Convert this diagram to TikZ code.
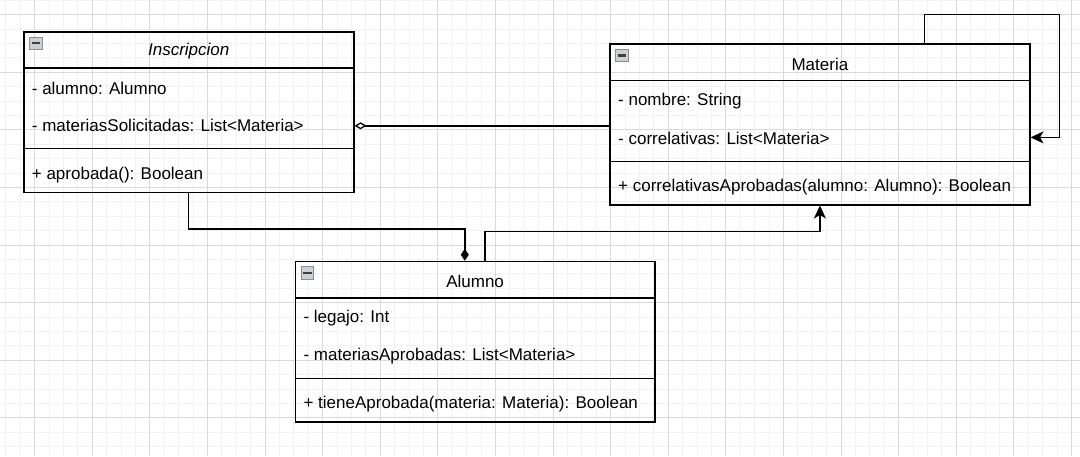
\documentclass[tikz,border=0pt]{standalone}
\usepackage{fontspec}
\setmainfont{Liberation Sans}
\usetikzlibrary{arrows.meta,calc}
\definecolor{gridminor}{HTML}{F2F2F2}
\definecolor{gridmajor}{HTML}{DADADA}
\definecolor{iconfill}{HTML}{CDCFD6}
\definecolor{iconline}{HTML}{8A8D96}
\begin{document}
\begin{tikzpicture}[x=1pt,y=-1pt,
  cbox/.style={draw=black,line width=1.5pt,inner sep=0pt,anchor=north west},
  cline/.style={draw=black,line width=1.5pt},
  ctitle/.style={inner sep=0pt,font=\fontsize{17}{20}\selectfont},
  crow/.style={inner xsep=8.7pt,inner ysep=0pt,anchor=west,font=\fontsize{17}{20}\selectfont},
  cicon/.style={draw=iconline,fill=iconfill,line width=1pt,minimum size=12.5pt,inner sep=0pt,anchor=north west},
  conn/.style={draw=black,line width=1.4pt},
  aggr/.style={conn,-{Diamond[open,length=12pt,width=7pt,line width=1.3pt]}},
  comp/.style={conn,-{Diamond[length=12pt,width=8pt]}},
  assoc/.style={conn,-{Stealth[length=13pt,width=12pt,inset=3.5pt]}},
]
\useasboundingbox (0,0) rectangle (1080,456);
\fill[white] (0,0) rectangle (1080,456);
% grid
\foreach \i in {-2,...,73} {
  \pgfmathsetmacro\gx{34.5+14.4*\i}
  \draw[gridminor,line width=0.8pt] (\gx,0) -- (\gx,456);
}
\foreach \i in {-1,...,31} {
  \pgfmathsetmacro\gy{14.5+14.4*\i}
  \draw[gridminor,line width=0.8pt] (0,\gy) -- (1080,\gy);
}
\foreach \i in {0,...,18} {
  \pgfmathsetmacro\gx{34.5+57.6*\i}
  \draw[gridmajor,line width=0.8pt] (\gx,0) -- (\gx,456);
}
\foreach \i in {0,...,7} {
  \pgfmathsetmacro\gy{14.5+57.6*\i}
  \draw[gridmajor,line width=0.8pt] (0,\gy) -- (1080,\gy);
}

% ---------- Inscripcion ----------
\node[cbox,minimum width=330pt,minimum height=160.5pt] (insc) at (23,31) {};
\draw[cline] ($(insc.north west)+(0,37.2)$) -- ($(insc.north east)+(0,37.2)$);
\draw[cline] ($(insc.north west)+(0,117.3)$) -- ($(insc.north east)+(0,117.3)$);
\node[ctitle] (inscT) at ($(insc.north)+(0,20.5)$) {\itshape Inscripcion};
\node[crow] (inscA) at ($(insc.north west)+(0,57.5)$) {- alumno: Alumno};
\node[crow] (inscS) at ($(insc.north west)+(0,94.8)$) {- materiasSolicitadas: List<Materia>};
\node[crow] (inscM) at ($(insc.north west)+(0,144)$) {+ aprobada(): Boolean};
\node[cicon] (inscI) at ($(insc.north west)+(6,5.5)$) {};
\draw[black!75,line width=2.2pt] ($(inscI.west)+(2.5,0)$) -- ($(inscI.east)+(-2.5,0)$);

% ---------- Materia ----------
\node[cbox,minimum width=419.7pt,minimum height=160.7pt] (mat) at (609.3,43.3) {};
\draw[cline] ($(mat.north west)+(0,37.4)$) -- ($(mat.north east)+(0,37.4)$);
\draw[cline] ($(mat.north west)+(0,118.4)$) -- ($(mat.north east)+(0,118.4)$);
\node[ctitle] (matT) at ($(mat.north)+(0,21)$) {Materia};
\node[crow] (matN) at ($(mat.north west)+(0,58)$) {- nombre: String};
\node[crow] (matC) at ($(mat.north west)+(0,95)$) {- correlativas: List<Materia>};
\node[crow] (matM) at ($(mat.north west)+(0,144)$) {+ correlativasAprobadas(alumno: Alumno): Boolean};
\node[cicon] (matI) at ($(mat.north west)+(6,5.5)$) {};
\draw[black!75,line width=2.2pt] ($(matI.west)+(2.5,0)$) -- ($(matI.east)+(-2.5,0)$);

% ---------- Alumno ----------
\node[cbox,minimum width=359.3pt,minimum height=160.3pt] (alu) at (294.7,260.7) {};
\draw[cline] ($(alu.north west)+(0,37.3)$) -- ($(alu.north east)+(0,37.3)$);
\draw[cline] ($(alu.north west)+(0,117.8)$) -- ($(alu.north east)+(0,117.8)$);
\node[ctitle] (aluT) at ($(alu.north)+(0,20.8)$) {Alumno};
\node[crow] (aluL) at ($(alu.north west)+(0,57.8)$) {- legajo: Int};
\node[crow] (aluA) at ($(alu.north west)+(0,95)$) {- materiasAprobadas: List<Materia>};
\node[crow] (aluM) at ($(alu.north west)+(0,143.8)$) {+ tieneAprobada(materia: Materia): Boolean};
\node[cicon] (aluI) at ($(alu.north west)+(6,5.5)$) {};
\draw[black!75,line width=2.2pt] ($(aluI.west)+(2.5,0)$) -- ($(aluI.east)+(-2.5,0)$);

% ---------- connectors ----------
\draw[aggr] (inscS -| mat.west) -- (inscS -| insc.east);
\draw[comp] (insc.south) -- ++(0,35.8) -| ($(alu.north)+(-10.3,0)$);
\draw[assoc] ($(alu.north)+(10,0)$) -- ++(0,-29) -| (mat.south);
\draw[assoc] ($(mat.north)+(104.8,0)$) |- ($(mat.north east)+(29,-28.6)$) |- ($(mat.east)+(0,13)$);
\end{tikzpicture}
\end{document}
